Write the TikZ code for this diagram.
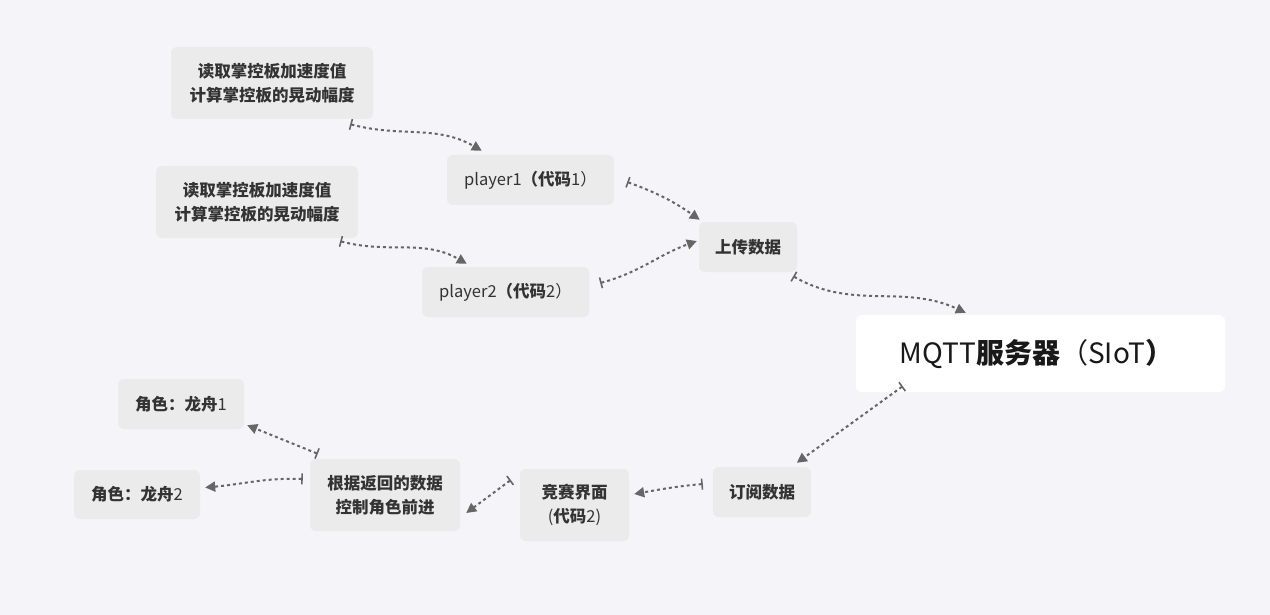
\documentclass[tikz,border=0pt]{standalone}
\usepackage{fontspec}
\setmainfont{Noto Sans CJK SC}
\usetikzlibrary{arrows.meta}
\definecolor{bgc}{HTML}{F5F5F9}
\definecolor{boxc}{HTML}{EBEBEB}
\definecolor{txtc}{HTML}{333333}
\definecolor{linkc}{HTML}{666666}

\begin{document}
\begin{tikzpicture}[x=1pt, y=1pt, every node/.style={font=\fontsize{16.5}{24}\selectfont, text=txtc, align=center},
	box/.style={fill=boxc, rounded corners=6pt, inner sep=0pt},
	link/.style={linkc, line width=2pt, dash pattern=on 3pt off 3pt, {Bar[width=11pt,line width=1.6pt]}-{Triangle[length=10pt,width=10pt]}}]
	\fill[bgc] (0,0) rectangle (1270,-615);
	\node[box, minimum width=202pt, minimum height=72pt] (read1) at (272,-83) {\textbf{读取掌控板加速度值}\\\textbf{计算掌控板的晃动幅度}};
	\node[box, minimum width=202pt, minimum height=72pt] (read2) at (257,-202) {\textbf{读取掌控板加速度值}\\\textbf{计算掌控板的晃动幅度}};
	\node[box, minimum width=167pt, minimum height=50pt] (player1) at (530.5,-180) {player1\textbf{（代码}1）};
	\node[box, minimum width=167pt, minimum height=50pt] (player2) at (505.5,-292) {player2\textbf{（代码}2）};
	\node[box, minimum width=98pt, minimum height=50pt] (upload) at (748,-247) {\textbf{上传数据}};
	\node[box, fill=white, minimum width=369pt, minimum height=77pt, font=\fontsize{28}{32}\selectfont, text=black!90] (server) at (1040.5,-353.5) {MQTT\textbf{服务器}（SIoT\textbf{）}\hspace*{8pt}};
	\node[box, minimum width=98pt, minimum height=50pt] (subscribe) at (762,-492) {\textbf{订阅数据}};
	\node[box, minimum width=109pt, minimum height=72pt] (race) at (574.5,-505) {\textbf{竞赛界面}\\(\textbf{代码}2)};
	\node[box, minimum width=150pt, minimum height=72pt] (control) at (385,-495) {\textbf{根据返回的数据}\\\textbf{控制角色前进}};
	\node[box, minimum width=126pt, minimum height=50pt] (dragon1) at (181,-404) {\textbf{角色：龙舟}1};
	\node[box, minimum width=126pt, minimum height=49pt] (dragon2) at (137,-494.5) {\textbf{角色：龙舟}2};
	\draw[link] ([xshift=-23pt,yshift=-5pt]read1.south east) to[out=-15,in=150] ([xshift=35pt,yshift=4pt]player1.north west);
	\draw[link] ([xshift=13pt,yshift=-2pt]player1.east) to[out=-20,in=145] ([xshift=1pt,yshift=2pt]upload.north west);
	\draw[link] ([xshift=-18pt,yshift=-3pt]read2.south east) to[out=-15,in=150] ([xshift=45pt,yshift=3pt]player2.north west);
	\draw[link] ([xshift=11pt,yshift=9pt]player2.east) to[out=15,in=200] ([xshift=-2pt,yshift=6pt]upload.west);
	\draw[link] ([xshift=-4pt,yshift=-4pt]upload.south east) to[out=-30,in=155] ([xshift=110pt,yshift=2pt]server.north west);
	\draw[link] ([xshift=47pt,yshift=6pt]server.south west) -- ([xshift=84pt,yshift=4pt]subscribe.north west);
	\draw[link] ([xshift=-10pt,yshift=8pt]subscribe.west) to[out=185,in=10] ([xshift=5pt,yshift=11pt]race.east);
	\draw[link] ([xshift=-9pt,yshift=25pt]race.west) -- ([xshift=6pt,yshift=-18pt]control.east);
	\draw[link] ([xshift=8pt,yshift=5pt]control.north west) -- ([xshift=3pt,yshift=4pt]dragon1.south east);
	\draw[link] ([xshift=-7pt,yshift=16pt]control.west) to[out=178,in=5] ([xshift=5pt,yshift=7pt]dragon2.east);
\end{tikzpicture}
\end{document}
